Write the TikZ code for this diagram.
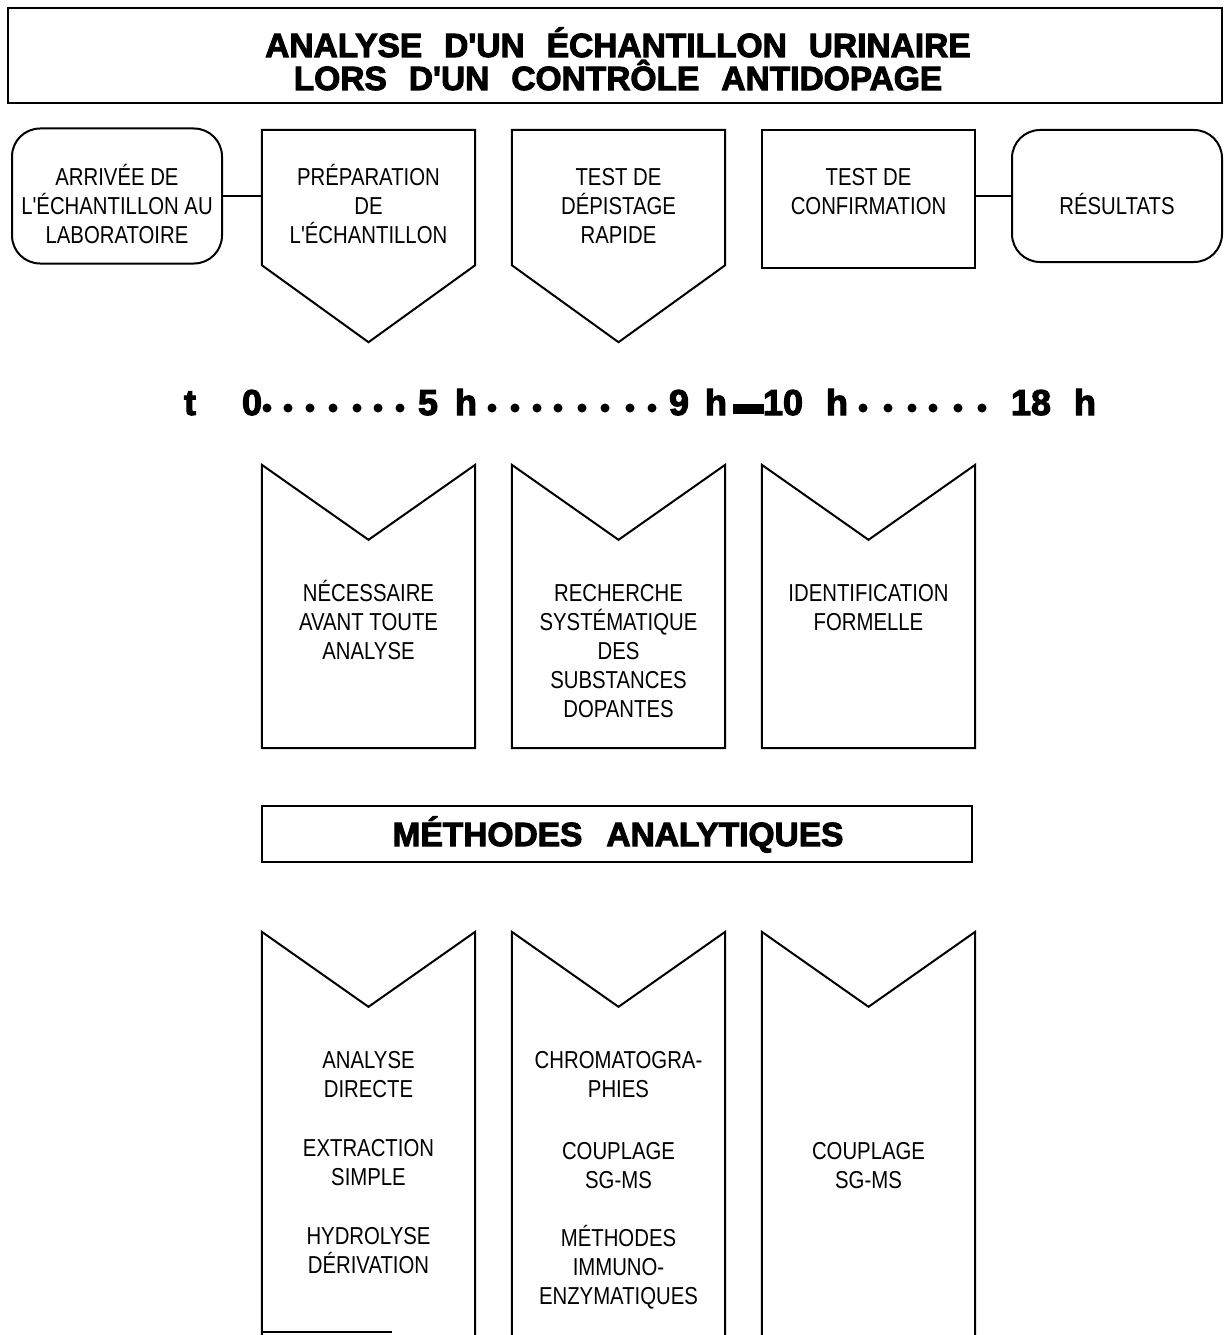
\documentclass[tikz,border=0pt]{standalone}
\usepackage{fontspec}
\setmainfont{Liberation Sans}[FakeStretch=0.83]
\newfontfamily\bfont{Liberation Sans}[FakeStretch=0.83]
\newfontfamily\tfont{Liberation Sans}[BoldFeatures={FakeBold=3}]
\usetikzlibrary{calc}
\tikzset{
  rbox/.style={draw, line width=2pt, rounded corners=28pt, inner sep=0pt},
  ghost/.style={inner sep=0pt},
  txt/.style={font=\bfont\fontsize{24.5}{29}\selectfont, align=center, anchor=base, inner sep=0pt},
  ttl/.style={font=\tfont\bfseries\fontsize{33.5}{33}\selectfont, anchor=base, inner sep=0pt},
  tl/.style={font=\tfont\bfseries\fontsize{36}{36}\selectfont, anchor=base, inner sep=0pt},
  outline/.style={line width=2pt, line join=miter},
  conn/.style={line width=2pt},
}
\begin{document}
\begin{tikzpicture}[x=1pt,y=-1pt]
\useasboundingbox (0,0) rectangle (1227,1335);
% title
\node[draw, line width=2pt, minimum width=1214pt, minimum height=95pt, inner sep=0pt] (title) at (615,55.5) {};
\node[ttl] (t1) at (618,57) {ANALYSE\hspace*{22pt}D'UN\hspace*{22pt}ÉCHANTILLON\hspace*{22pt}URINAIRE};
\node[ttl] (t2) at (618,90) {LORS\hspace*{22pt}D'UN\hspace*{22pt}CONTRÔLE\hspace*{22pt}ANTIDOPAGE};
% top row
\node[rbox, minimum width=210pt, minimum height=135pt] (arr) at (117,196) {};
\node[ghost, minimum width=213pt, minimum height=135pt] (prep) at (368.5,197.5) {};
\node[ghost, minimum width=213pt, minimum height=135pt] (dep) at (618.5,197.5) {};
\node[draw, line width=2pt, inner sep=0pt, minimum width=213pt, minimum height=138pt] (conf) at (868.5,199) {};
\node[rbox, minimum width=210pt, minimum height=132pt] (res) at (1117,196) {};
\draw[outline] (prep.north west) -- (prep.north east) -- (prep.south east) -- ($(prep.south)+(0,77)$) -- (prep.south west) -- cycle;
\draw[outline] (dep.north west) -- (dep.north east) -- (dep.south east) -- ($(dep.south)+(0,77)$) -- (dep.south west) -- cycle;
\draw[conn] (arr.east) -- (arr.east -| prep.west);
\draw[conn] (conf.east |- res.west) -- (res.west);
\node[txt] (arrt) at (117,243) {ARRIVÉE DE\\L'ÉCHANTILLON AU\\LABORATOIRE};
\node[txt] (prept) at (368.5,243) {PRÉPARATION\\DE\\L'ÉCHANTILLON};
\node[txt] (dept) at (618.5,243) {TEST DE\\DÉPISTAGE\\RAPIDE};
\node[txt] (conft) at (868.5,214) {TEST DE\\CONFIRMATION};
\node[txt] (rest) at (1117,214) {RÉSULTATS};
% timeline
\node[tl] (tt) at (190,415) {t};
\node[tl] (h0) at (252,415) {0};
\node[tl] (h5) at (428,415) {5};
\node[tl] (h5h) at (466,415) {h};
\node[tl] (h9) at (679,415) {9};
\node[tl] (h9h) at (716,415) {h};
\node[tl] (h10) at (783,415) {10};
\node[tl] (h10h) at (837,415) {h};
\node[tl] (h18) at (1031,415) {18};
\node[tl] (h18h) at (1085,415) {h};
\foreach \x in {267,288,310,333,357,378,400,492,515,537,558,582,605,630,652,863,888,912,933,958,982}
  \fill (\x,408) circle (4.5pt);
\fill (733,404) rectangle (764,414);
% middle row
\foreach \n/\x in {m1/368.5,m2/618.5,m3/868.5}{
  \node[ghost, minimum width=213pt, minimum height=283pt] (\n) at (\x,606.5) {};
  \draw[outline] (\n.north west) -- ($(\n.north)+(0,75)$) -- (\n.north east) -- (\n.south east) -- (\n.south west) -- cycle;
}
\node[txt] (m1t) at (368.5,659) {NÉCESSAIRE\\AVANT TOUTE\\ANALYSE};
\node[txt] (m2t) at (618.5,717) {RECHERCHE\\SYSTÉMATIQUE\\DES\\SUBSTANCES\\DOPANTES};
\node[txt] (m3t) at (868.5,630) {IDENTIFICATION\\FORMELLE};
% methodes
\node[draw, line width=2pt, inner sep=0pt, minimum width=710pt, minimum height=56pt] (meth) at (617,834) {};
\node[ttl] (metht) at (618,846) {MÉTHODES\hspace*{24pt}ANALYTIQUES};
% bottom row
\foreach \n/\x in {b1/368.5,b2/618.5,b3/868.5}{
  \node[ghost, minimum width=213pt, minimum height=403pt] (\n) at (\x,1133.5) {};
  \draw[outline] (\n.south west) -- (\n.north west) -- ($(\n.north)+(0,75)$) -- (\n.north east) -- (\n.south east);
}
\draw[conn] (b1.south west) ++(0,-3) -- ++(130,0);
\node[txt] (b1a) at (368.5,1097) {ANALYSE\\DIRECTE};
\node[txt] (b1b) at (368.5,1185) {EXTRACTION\\SIMPLE};
\node[txt] (b1c) at (368.5,1273) {HYDROLYSE\\DÉRIVATION};
\node[txt] (b2a) at (618.5,1097) {CHROMATOGRA-\\PHIES};
\node[txt] (b2b) at (618.5,1188) {COUPLAGE\\SG-MS};
\node[txt] (b2c) at (618.5,1304) {MÉTHODES\\IMMUNO-\\ENZYMATIQUES};
\node[txt] (b3a) at (868.5,1188) {COUPLAGE\\SG-MS};
\end{tikzpicture}
\end{document}
